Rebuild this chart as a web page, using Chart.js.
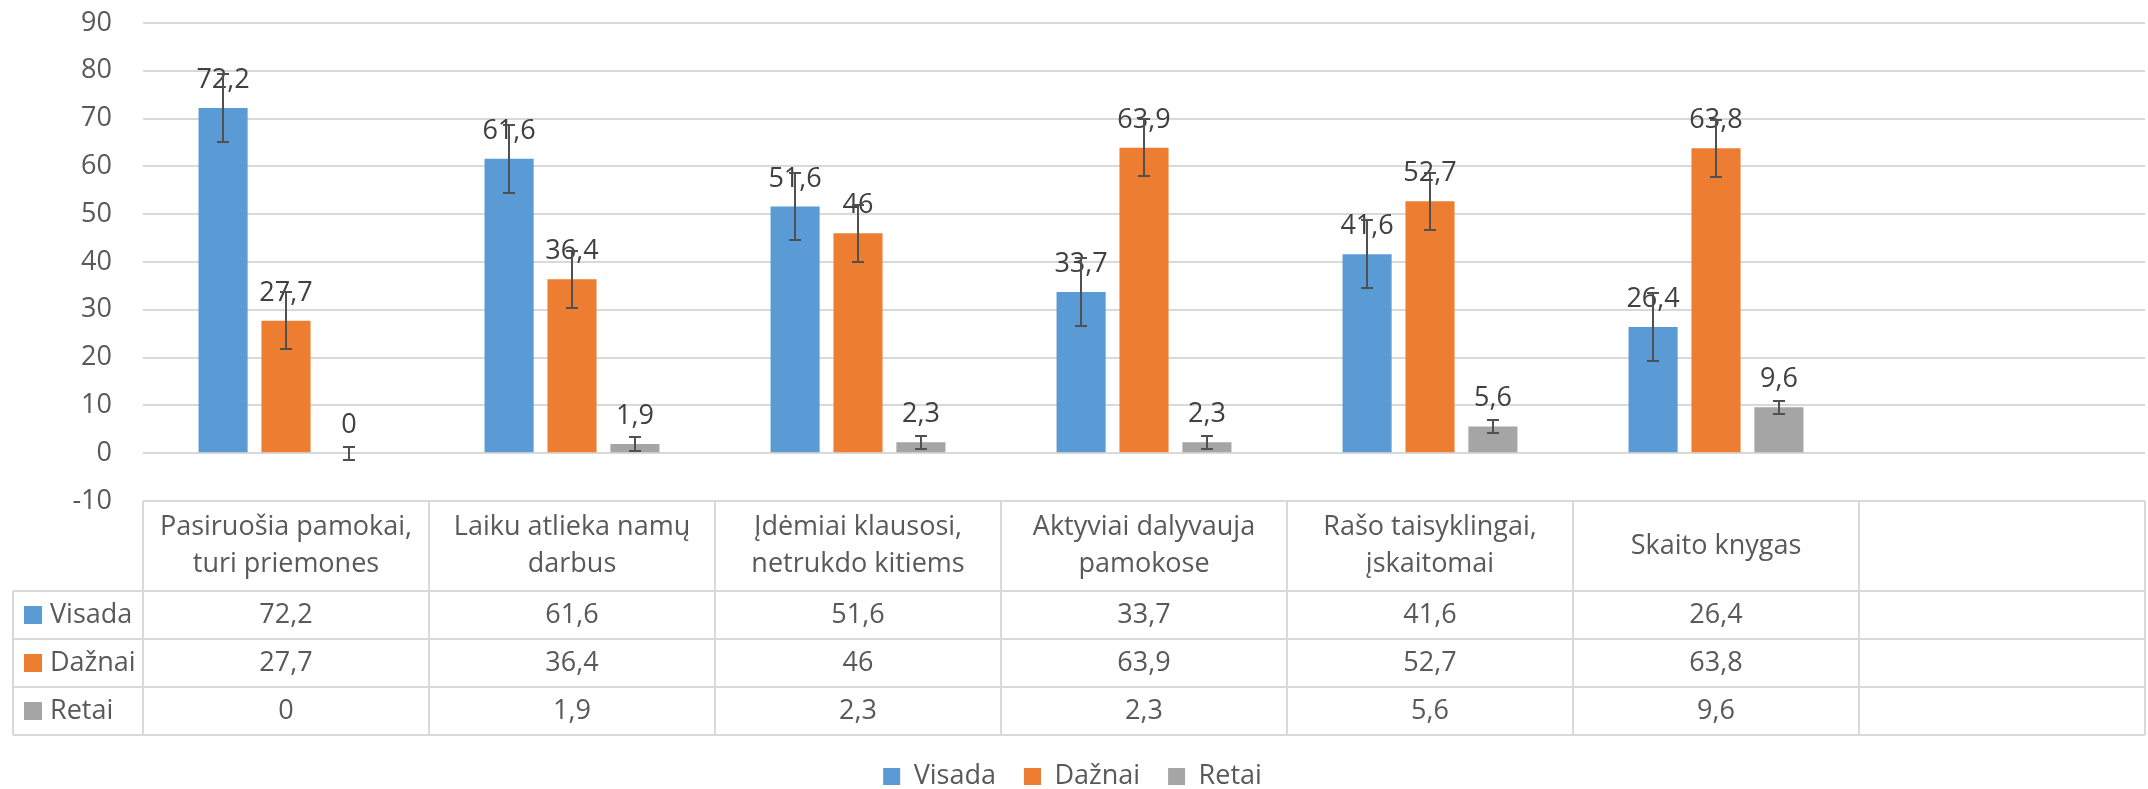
<!DOCTYPE html>
<html>
<head>
<meta charset="utf-8">
<title>Mokinių elgesys pamokose</title>
<script src="https://cdn.jsdelivr.net/npm/chart.js@4.4.1/dist/chart.umd.min.js"></script>
<style>
  html, body { margin: 0; padding: 0; background: #fff; }
  #chart { display: block; }
</style>
</head>
<body>
<canvas id="chart" width="2148" height="789"></canvas>
<script>
// values
const categories = [
  ['Pasiruošia pamokai,', 'turi priemones'],
  ['Laiku atlieka namų', 'darbus'],
  ['Įdėmiai klausosi,', 'netrukdo kitiems'],
  ['Aktyviai dalyvauja', 'pamokose'],
  ['Rašo taisyklingai,', 'įskaitomai'],
  ['Skaito knygas'],
  ['']
];
const seriesNames = ['Visada', 'Dažnai', 'Retai'];
const visada = [72.2, 61.6, 51.6, 33.7, 41.6, 26.4];
const daznai = [27.7, 36.4, 46, 63.9, 52.7, 63.8];
const retai = [0, 1.9, 2.3, 2.3, 5.6, 9.6];
// error bar size per series (one value for every bar of that series)
const errors = [7.1, 6.0, 1.4];
const yTicks = [-10, 0, 10, 20, 30, 40, 50, 60, 70, 80, 90];

const colors = ['#5B9BD5', '#ED7D31', '#A5A5A5'];
const textColor = '#595959';
const lineColor = '#D9D9D9';
const fontFamily = "'Open Sans', 'Noto Sans', sans-serif";
const fontSize = 27;

function fmt(v) {
  return String(v).replace('.', ',');
}

// data labels above bars + error bars
const barExtras = {
  id: 'barExtras',
  afterDatasetsDraw(chart) {
    const ctx = chart.ctx;
    const y = chart.scales.y;
    ctx.save();
    ctx.font = fontSize + 'px ' + fontFamily;
    ctx.textAlign = 'center';
    ctx.textBaseline = 'alphabetic';
    ctx.fillStyle = '#404040';
    chart.data.datasets.forEach((ds, i) => {
      chart.getDatasetMeta(i).data.forEach((bar, j) => {
        if (ds.data[j] == null) return;
        ctx.fillText(fmt(ds.data[j]), bar.x, bar.y - 20);
      });
    });

    ctx.strokeStyle = '#505050';
    ctx.lineWidth = 2;
    chart.data.datasets.forEach((ds, i) => {
      const err = errors[i];
      chart.getDatasetMeta(i).data.forEach((bar, j) => {
        const v = ds.data[j];
        if (v == null) return;
        const top = Math.round(y.getPixelForValue(v + err));
        const bottom = Math.round(y.getPixelForValue(v - err));
        const bx = Math.round(bar.x);
        ctx.beginPath();
        ctx.moveTo(bx, top); ctx.lineTo(bx, bottom);
        ctx.moveTo(bx - 6, top); ctx.lineTo(bx + 6, top);
        ctx.moveTo(bx - 6, bottom); ctx.lineTo(bx + 6, bottom);
        ctx.stroke();
      });
    });
    ctx.restore();
  }
};

// data table under the plot
const dataTable = {
  id: 'dataTable',
  afterDraw(chart) {
    const ctx = chart.ctx;
    const xs = chart.scales.x;
    const area = chart.chartArea;
    const step = xs.getPixelForValue(1) - xs.getPixelForValue(0);
    const left = area.left;
    const right = area.right;
    const keyLeft = 13;
    const headTop = area.bottom;
    const headBottom = headTop + 90;
    const rowH = 48;
    const rows = [visada, daznai, retai];
    const tableBottom = headBottom + rowH * rows.length;

    ctx.save();
    ctx.strokeStyle = lineColor;
    ctx.lineWidth = 2;
    ctx.beginPath();
    for (let r = 0; r <= rows.length; r++) {
      const yy = Math.round(headBottom + r * rowH);
      ctx.moveTo(keyLeft, yy); ctx.lineTo(right, yy);
    }
    ctx.moveTo(keyLeft, headBottom); ctx.lineTo(keyLeft, tableBottom);
    for (let c = 0; c <= categories.length; c++) {
      const xx = Math.round(left + c * step);
      ctx.moveTo(xx, headTop); ctx.lineTo(xx, tableBottom);
    }
    ctx.stroke();

    ctx.font = fontSize + 'px ' + fontFamily;
    ctx.fillStyle = textColor;
    ctx.textAlign = 'center';
    ctx.textBaseline = 'middle';
    const lh = 37;
    categories.forEach((lines, c) => {
      const cx = xs.getPixelForValue(c);
      const cy = (headTop + headBottom) / 2 - (lines.length - 1) * lh / 2;
      lines.forEach((t, k) => ctx.fillText(t, cx, cy + k * lh));
    });

    rows.forEach((vals, r) => {
      const cy = headBottom + r * rowH + rowH / 2;
      vals.forEach((v, c) => {
        ctx.fillText(fmt(v), xs.getPixelForValue(c), cy);
      });
      ctx.fillStyle = colors[r];
      ctx.fillRect(24, Math.round(cy - 9), 18, 18);
      ctx.fillStyle = textColor;
      ctx.textAlign = 'left';
      ctx.fillText(seriesNames[r], 50, cy);
      ctx.textAlign = 'center';
    });
    ctx.restore();
  }
};

Chart.defaults.font.family = fontFamily;
Chart.defaults.font.size = fontSize;
Chart.defaults.color = textColor;

const ctx = document.getElementById('chart').getContext('2d');
const chart = new Chart(ctx, {
  type: 'bar',
  data: {
    labels: categories,
    datasets: [
      { label: seriesNames[0], data: visada, backgroundColor: colors[0] },
      { label: seriesNames[1], data: daznai, backgroundColor: colors[1] },
      { label: seriesNames[2], data: retai, backgroundColor: colors[2] }
    ]
  },
  options: {
    responsive: false,
    animation: false,
    devicePixelRatio: 1,
    categoryPercentage: 0.66,
    barPercentage: 0.78,
    layout: { padding: { top: 23, right: 3, left: 0, bottom: 0 } },
    plugins: {
      tooltip: { enabled: false },
      legend: {
        position: 'bottom',
        maxHeight: 54,
        labels: {
          boxWidth: 17,
          boxHeight: 17,
          padding: 28,
          color: textColor,
          font: { size: fontSize }
        }
      }
    },
    scales: {
      x: {
        afterFit: s => { s.height = 234; },
        grid: { display: false },
        border: { display: false },
        ticks: { display: false }
      },
      y: {
        min: -10,
        max: 90,
        afterBuildTicks: s => { s.ticks = yTicks.map(v => ({ value: v })); },
        afterFit: s => { s.width = 143; },
        grid: {
          color: lineColor,
          lineWidth: 2,
          drawTicks: true,
          tickLength: 31,
          tickColor: 'rgba(0,0,0,0)'
        },
        border: { display: false },
        ticks: { padding: 0, color: textColor, font: { size: fontSize } }
      }
    }
  },
  plugins: [barExtras, dataTable]
});
</script>
</body>
</html>
